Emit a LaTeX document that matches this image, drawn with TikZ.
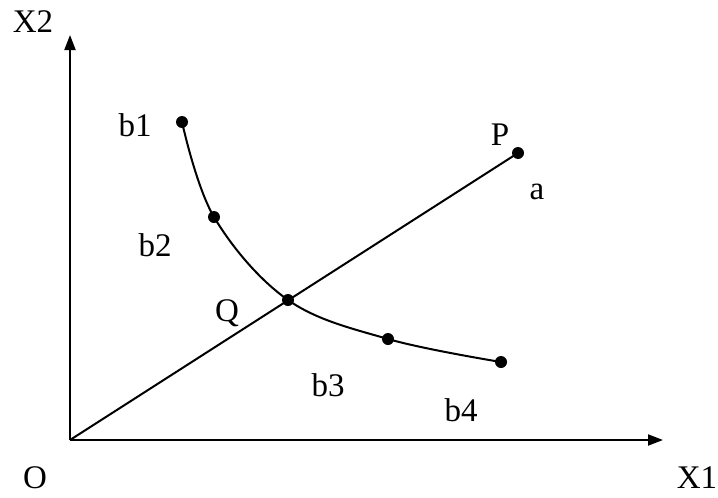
\documentclass[tikz,border=0pt]{standalone}
\usepackage{fontspec}
\setmainfont{Liberation Serif}
\usetikzlibrary{arrows.meta}
\begin{document}
\begin{tikzpicture}[x=1pt,y=-1pt,
  axis/.style={line width=2pt,-{Triangle[length=15pt,width=11pt]}},
  curve/.style={line width=2pt},
  dot/.style={circle,fill=black,inner sep=0pt,minimum size=12pt},
  lbl/.style={font=\fontsize{33}{36}\selectfont,inner sep=0pt}]
\useasboundingbox (0,0) rectangle (718,498);
\coordinate (O) at (70,440);
\coordinate (ytip) at (70,35);
\coordinate (xtip) at (663,440);
\node[dot] (Pd) at (518,153) {};
\node[dot] (b1d) at (182,122) {};
\node[dot] (b2d) at (214,217) {};
\node[dot] (Qd) at (288,300) {};
\node[dot] (b3d) at (388,339) {};
\node[dot] (b4d) at (501,362) {};
\draw[axis] (O) -- (ytip);
\draw[axis] (O) -- (xtip);
\draw[curve] (O) -- (Pd.center);
\draw[curve] plot[smooth,tension=0.6] coordinates {(b1d.center) (b2d.center) (Qd.center) (b3d.center) (b4d.center)};
\node[lbl] (tX2) at (33,22) {X2};
\node[lbl] (tb1) at (135,125) {b1};
\node[lbl] (tb2) at (155,245) {b2};
\node[lbl] (tQ) at (227,313) {Q};
\node[lbl] (tP) at (500,135) {P};
\node[lbl] (ta) at (537,192) {a};
\node[lbl] (tb3) at (328,385) {b3};
\node[lbl] (tb4) at (461,410) {b4};
\node[lbl] (tO) at (35,478) {O};
\node[lbl] (tX1) at (697,478) {X1};
\end{tikzpicture}
\end{document}
